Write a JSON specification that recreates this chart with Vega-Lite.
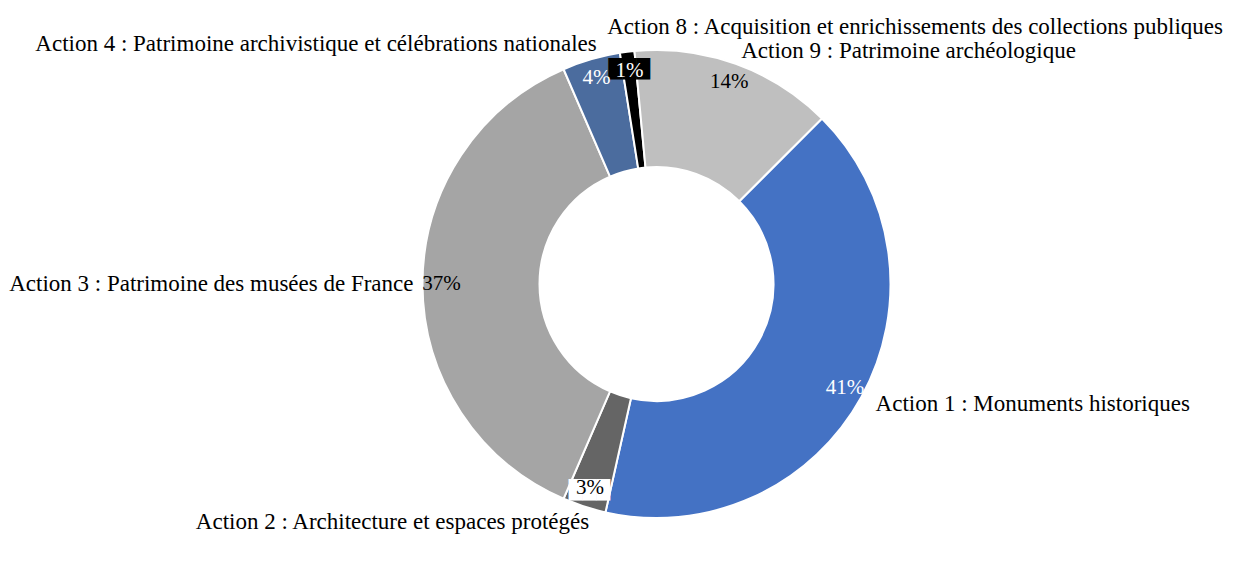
{
  "$schema": "https://vega.github.io/schema/vega-lite/v6.json",
  "autosize": "none",
  "width": 1153,
  "height": 568,
  "padding": {"left": 80, "right": 0, "top": 0, "bottom": 0},
  "background": "white",
  "config": {"view": {"stroke": null}, "text": {"font": "Liberation Serif"}},
  "data": {
    "values": [
      {"num": 1, "action": "Action 1 : Monuments historiques", "part": 0.41},
      {"num": 2, "action": "Action 2 : Architecture et espaces protégés", "part": 0.03},
      {"num": 3, "action": "Action 3 : Patrimoine des musées de France", "part": 0.37},
      {"num": 4, "action": "Action 4 : Patrimoine archivistique et célébrations nationales", "part": 0.04},
      {"num": 8, "action": "Action 8 : Acquisition et enrichissements des collections publiques", "part": 0.01},
      {"num": 9, "action": "Action 9 : Patrimoine archéologique", "part": 0.14}
    ]
  },
  "encoding": {
    "theta": {"field": "part", "type": "quantitative", "stack": true, "scale": {"range": [0.7854, 7.0686]}},
    "order": {"field": "num", "type": "quantitative"}
  },
  "layer": [
    {
      "mark": {"type": "arc", "outerRadius": 234, "innerRadius": 117, "stroke": "white", "strokeWidth": 2},
      "encoding": {
        "color": {
          "field": "action", "type": "nominal", "legend": null,
          "scale": {
            "domain": [
              "Action 1 : Monuments historiques",
              "Action 2 : Architecture et espaces protégés",
              "Action 3 : Patrimoine des musées de France",
              "Action 4 : Patrimoine archivistique et célébrations nationales",
              "Action 8 : Acquisition et enrichissements des collections publiques",
              "Action 9 : Patrimoine archéologique"
            ],
            "range": ["#4472C4", "#656565", "#A5A5A5", "#4B6C9E", "#000000", "#BFBFBF"]
          }
        }
      }
    },
    {
      "mark": {"type": "text", "radius": 217, "font": "DejaVu Sans", "fontSize": 18, "baseline": "middle", "dy": 1},
      "encoding": {
        "text": {"condition": {"test": "datum.num == 8 || datum.num == 2", "value": "███"}, "value": ""},
        "color": {"condition": {"test": "datum.num == 8", "value": "black"}, "value": "white"}
      }
    },
    {
      "mark": {"type": "text", "radius": 215, "fontSize": 21, "baseline": "middle"},
      "encoding": {
        "text": {"field": "part", "type": "quantitative", "format": ".0%"},
        "color": {"condition": {"test": "datum.num == 1 || datum.num == 4 || datum.num == 8", "value": "white"}, "value": "black"}
      }
    },
    {
      "mark": {
        "type": "text", "radius": 250, "fontSize": 23, "baseline": "middle", "color": "black",
        "align": {"expr": "datum.num == 1 || datum.num == 8 || datum.num == 9 ? 'left' : 'right'"},
        "dx": {"expr": "datum.num == 8 ? -18 : (datum.num == 2 || datum.num == 4) ? 10 : datum.num == 3 ? 7 : 0"},
        "dy": {"expr": "datum.num == 8 ? -9 : datum.num == 9 ? 2 : 0"}
      },
      "encoding": {
        "text": {"field": "action", "type": "nominal"}
      }
    }
  ]
}
